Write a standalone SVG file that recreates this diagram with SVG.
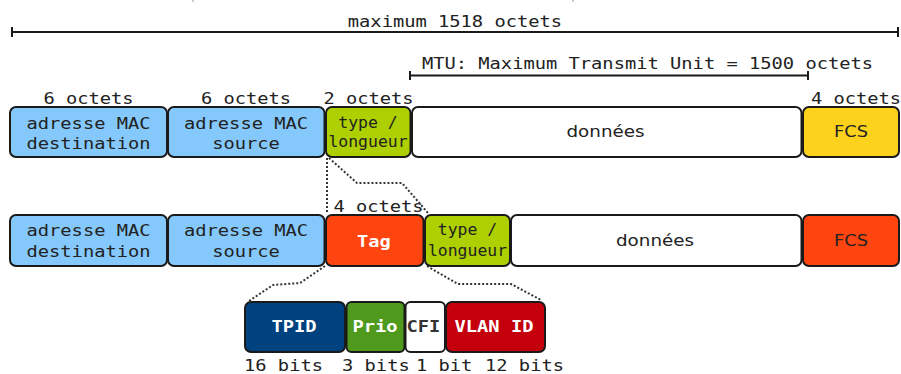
<svg xmlns="http://www.w3.org/2000/svg" width="901" height="374" viewBox="0 0 901 374">
<style>
.box{stroke:#1a1a1a;stroke-width:2}
.m{font-family:"DejaVu Sans Mono","Liberation Mono",monospace;font-size:15.5px;fill:#222}
.s{font-family:"DejaVu Sans","Liberation Sans",sans-serif;font-size:15.5px;fill:#222}
.b{font-family:"DejaVu Sans Mono","Liberation Mono",monospace;font-size:15.5px;font-weight:bold;fill:#fff}
.dim{stroke:#1a1a1a;stroke-width:2;fill:none}
.dot{stroke:#333;stroke-width:2;fill:none;stroke-dasharray:2 2}
.blue{fill:#85c9fc}.lime{fill:#aecf00}.white{fill:#fff}.yellow{fill:#fcd21d}.orange{fill:#ff450f}
</style>
<rect width="901" height="374" fill="#fff"/>
<g id="stray">
<line x1="193" y1="0" x2="193" y2="2" stroke="#999" stroke-width="1"/>
<line x1="573" y1="0" x2="573" y2="2" stroke="#999" stroke-width="1"/>
</g>
<g id="dimensions">
<path class="dim" d="M12,27 V37 M12,32 H898 M898,27 V37"/>
<text class="m" x="347.8" y="27" textLength="214.3" lengthAdjust="spacingAndGlyphs">maximum 1518 octets</text>
<path class="dim" d="M410,71 V80 M410,75.5 H808 M808,71 V80"/>
<text class="m" x="421.9" y="69" textLength="451.2" lengthAdjust="spacingAndGlyphs">MTU: Maximum Transmit Unit = 1500 octets</text>
</g>
<g id="labels">
<text class="m" x="43.4" y="104" textLength="90.2" lengthAdjust="spacingAndGlyphs">6 octets</text>
<text class="m" x="200.9" y="104" textLength="90.2" lengthAdjust="spacingAndGlyphs">6 octets</text>
<text class="m" x="323.4" y="104" textLength="90.2" lengthAdjust="spacingAndGlyphs">2 octets</text>
<text class="m" x="810.9" y="104" textLength="90.2" lengthAdjust="spacingAndGlyphs">4 octets</text>
<text class="m" x="333.4" y="212" textLength="90.2" lengthAdjust="spacingAndGlyphs">4 octets</text>
<text class="m" x="244" y="371" textLength="79" lengthAdjust="spacingAndGlyphs">16 bits</text>
<text class="m" x="342" y="371" textLength="67.7" lengthAdjust="spacingAndGlyphs">3 bits</text>
<text class="m" x="416" y="371" textLength="56.4" lengthAdjust="spacingAndGlyphs">1 bit</text>
<text class="m" x="485" y="371" textLength="79" lengthAdjust="spacingAndGlyphs">12 bits</text>
</g>
<g id="connectors">
<path class="dot" d="M327,158 V214"/>
<path class="dot" d="M329,158 L357,183 L402,183 L428,213"/>
<path class="dot" d="M325,266 L300,283 L273,285 L249,301"/>
<path class="dot" d="M427,266 L458,284 L511,284 L541,300"/>
</g>
<g id="r1-dst">
<rect class="box blue" x="10" y="107" width="157" height="50" rx="6"/>
<text class="m" x="26.5" y="129" textLength="124.1" lengthAdjust="spacingAndGlyphs">adresse MAC</text>
<text class="m" x="26.5" y="149" textLength="124.1" lengthAdjust="spacingAndGlyphs">destination</text>
</g>
<g id="r1-src">
<rect class="box blue" x="168" y="107" width="156.5" height="50" rx="6"/>
<text class="m" x="184" y="129" textLength="124.1" lengthAdjust="spacingAndGlyphs">adresse MAC</text>
<text class="m" x="212.2" y="149" textLength="67.7" lengthAdjust="spacingAndGlyphs">source</text>
</g>
<g id="r1-type">
<rect class="box lime" x="326" y="107" width="84.5" height="50" rx="6"/>
<text class="m" x="338.3" y="128" textLength="59.4" lengthAdjust="spacingAndGlyphs">type /</text>
<text class="m" x="328.4" y="147" textLength="79.2" lengthAdjust="spacingAndGlyphs">longueur</text>
</g>
<g id="r1-data">
<rect class="box white" x="412" y="107" width="389.5" height="50" rx="6"/>
<text class="s" x="566.5" y="137" textLength="78" lengthAdjust="spacingAndGlyphs">données</text>
</g>
<g id="r1-fcs">
<rect class="box yellow" x="803" y="107" width="96" height="50" rx="6"/>
<text class="s" x="834" y="137" textLength="34" lengthAdjust="spacingAndGlyphs">FCS</text>
</g>
<g id="r2-dst">
<rect class="box blue" x="10" y="215" width="157" height="51" rx="6"/>
<text class="m" x="26.5" y="236" textLength="124.1" lengthAdjust="spacingAndGlyphs">adresse MAC</text>
<text class="m" x="26.5" y="257" textLength="124.1" lengthAdjust="spacingAndGlyphs">destination</text>
</g>
<g id="r2-src">
<rect class="box blue" x="168" y="215" width="156.5" height="51" rx="6"/>
<text class="m" x="184" y="236" textLength="124.1" lengthAdjust="spacingAndGlyphs">adresse MAC</text>
<text class="m" x="212.2" y="257" textLength="67.7" lengthAdjust="spacingAndGlyphs">source</text>
</g>
<g id="r2-tag">
<rect class="box orange" x="326" y="215" width="97.5" height="51" rx="6"/>
<text class="b" x="357.1" y="247" textLength="33.8" lengthAdjust="spacingAndGlyphs">Tag</text>
</g>
<g id="r2-type">
<rect class="box lime" x="425" y="215" width="85" height="51" rx="6"/>
<text class="m" x="437.8" y="235" textLength="59.4" lengthAdjust="spacingAndGlyphs">type /</text>
<text class="m" x="427.9" y="256" textLength="79.2" lengthAdjust="spacingAndGlyphs">longueur</text>
</g>
<g id="r2-data">
<rect class="box white" x="511" y="215" width="290.5" height="51" rx="6"/>
<text class="s" x="616" y="246" textLength="78" lengthAdjust="spacingAndGlyphs">données</text>
</g>
<g id="r2-fcs">
<rect class="box orange" x="803" y="215" width="96" height="51" rx="6"/>
<text class="s" x="834" y="246" textLength="34" lengthAdjust="spacingAndGlyphs">FCS</text>
</g>
<g id="tpid">
<rect class="box" fill="#00427f" x="245" y="302" width="100" height="50" rx="6"/>
<text class="b" x="271.4" y="332" textLength="45.1" lengthAdjust="spacingAndGlyphs">TPID</text>
</g>
<g id="prio">
<rect class="box" fill="#4f9a1d" x="346.5" y="302" width="58" height="50" rx="5"/>
<text class="b" x="352.4" y="332" textLength="45.1" lengthAdjust="spacingAndGlyphs">Prio</text>
</g>
<g id="cfi">
<rect class="box white" x="405.5" y="302" width="39.5" height="50" rx="5"/>
<text class="b" style="fill:#333" x="406.6" y="332" textLength="33.8" lengthAdjust="spacingAndGlyphs">CFI</text>
</g>
<g id="vlanid">
<rect class="box" fill="#c4000d" x="446" y="302" width="99" height="50" rx="6"/>
<text class="b" x="454.5" y="332" textLength="79" lengthAdjust="spacingAndGlyphs">VLAN ID</text>
</g>
</svg>
